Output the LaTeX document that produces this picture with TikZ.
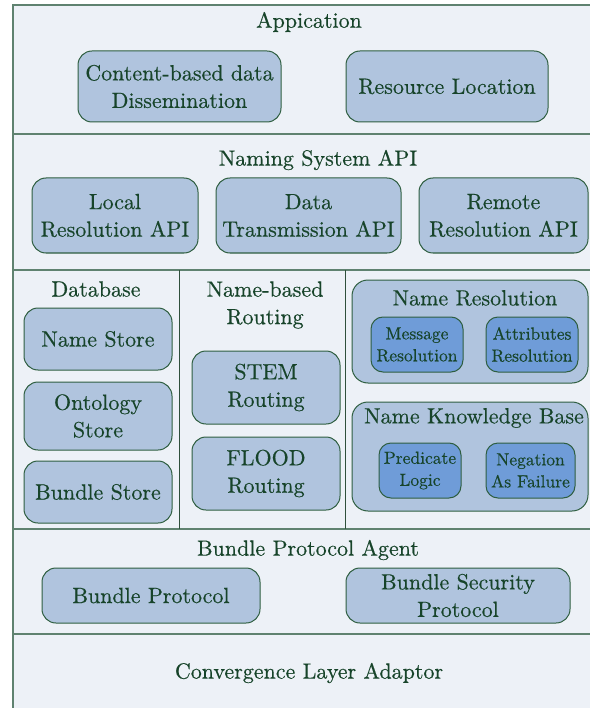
\documentclass[tikz,border=0pt]{standalone}
\usepackage{fontspec}
\IfFontExistsTF{lmroman10-regular.otf}{\newfontfamily\tms{lmroman10-regular.otf}[FakeBold=0.4]}{\newfontfamily\tms{Latin Modern Roman}}
\definecolor{bg}{HTML}{EDF1F7}
\definecolor{boxfill}{HTML}{B0C4DE}
\definecolor{innerfill}{HTML}{6F9CD8}
\definecolor{txt}{HTML}{17442A}
\definecolor{boxline}{HTML}{2E5E40}
\definecolor{layerline}{HTML}{5F8270}
\definecolor{divline}{HTML}{2F4F3C}
\newcommand{\bx}[7][box]{\node[#1,minimum width={(#5-#3)*1pt},minimum height={(#6-#4)*1pt}] (#2) at ({(#3+#5)/2},{(#4+#6)/2}) {#7};}
\begin{document}
\begin{tikzpicture}[x=1pt,y=-1pt,
  big/.style={font=\tms\fontsize{22}{27.5}\selectfont, text=txt, align=center},
  sm/.style={font=\tms\fontsize{17.5}{22}\selectfont, text=txt, align=center},
  box/.style={big, draw=boxline, fill=boxfill, rounded corners=14pt, line width=1pt, inner sep=0pt},
  group/.style={draw=boxline, fill=boxfill, rounded corners=16pt, line width=1pt, inner sep=0pt},
  inner/.style={sm, draw=boxline, fill=innerfill, rounded corners=12pt, line width=1pt, inner sep=0pt},
  title/.style={big, inner sep=0pt},
  layer/.style={draw=layerline, line width=1.3pt},
  divider/.style={draw=divline, line width=1pt}]
\useasboundingbox (0,0) rectangle (590,708);
\fill[bg] (13,5) rectangle (590,708);
% layer frame
\coordinate (tl) at (13,5);
\coordinate (tr) at (590,5);
\coordinate (bl) at (13,708);
\draw[layer] (bl) -- (tl) -- (tr);
\coordinate (l1a) at (13,134);  \coordinate (l1b) at (590,134);
\coordinate (l2a) at (13,270);  \coordinate (l2b) at (590,270);
\coordinate (l3a) at (13,529);  \coordinate (l3b) at (590,529);
\coordinate (l4a) at (13,634);  \coordinate (l4b) at (590,634);
\draw[layer] (l1a) -- (l1b);
\draw[layer] (l2a) -- (l2b);
\draw[layer] (l3a) -- (l3b);
\draw[layer] (l4a) -- (l4b);
\coordinate (d1a) at (179,270); \coordinate (d1b) at (179,529);
\coordinate (d2a) at (345.5,270); \coordinate (d2b) at (345.5,529);
\draw[divider] (d1a) -- (d1b);
\draw[divider] (d2a) -- (d2b);
% Application
\node[title] (tapp) at (309,22) {Appication};
\bx{app1}{78}{51}{281}{122}{Content-based data\\Dissemination}
\bx{app2}{346}{51}{548}{122}{Resource Location}
% Naming System API
\node[title] (tapi) at (318,160) {Naming System API};
\bx{api1}{32}{178}{198}{253}{Local\\Resolution API}
\bx{api2}{216}{178}{401}{253}{Data\\Transmission API}
\bx{api3}{419}{178}{588}{253}{Remote\\Resolution API}
% Database
\node[title] (tdb) at (96,289) {Database};
\bx{db1}{24}{308}{172}{370}{Name Store}
\bx{db2}{24}{382}{172}{450}{Ontology\\Store}
\bx{db3}{24}{461}{172}{523}{Bundle Store}
% Name-based Routing
\node[title] (trt) at (265,305) {Name-based\\Routing};
\bx{rt1}{192}{351}{340}{424}{STEM\\Routing}
\bx{rt2}{192}{437}{340}{510}{FLOOD\\Routing}
% Name Resolution
\bx[group]{nr}{352}{280}{588}{383}{}
\node[title] (tnr) at (475,298) {Name Resolution};
\bx[inner]{nr1}{371}{317}{463}{372}{Message\\Resolution}
\bx[inner]{nr2}{486}{317}{578}{372}{Attributes\\Resolution}
% Name Knowledge Base
\bx[group]{nk}{352}{402}{588}{511}{}
\node[title] (tnk) at (474,418) {Name Knowledge Base};
\bx[inner]{nk1}{379}{443}{461}{498}{Predicate\\Logic}
\bx[inner]{nk2}{486}{443}{575}{498}{Negation\\As Failure}
% Bundle Protocol Agent
\node[title] (tbpa) at (308,550) {Bundle Protocol Agent};
\bx{bp1}{42}{568}{260}{623}{Bundle Protocol}
\bx{bp2}{346}{568}{570}{623}{Bundle Security\\Protocol}
% Convergence Layer Adaptor
\node[title] (tcla) at (309,673) {Convergence Layer Adaptor};
\end{tikzpicture}
\end{document}
